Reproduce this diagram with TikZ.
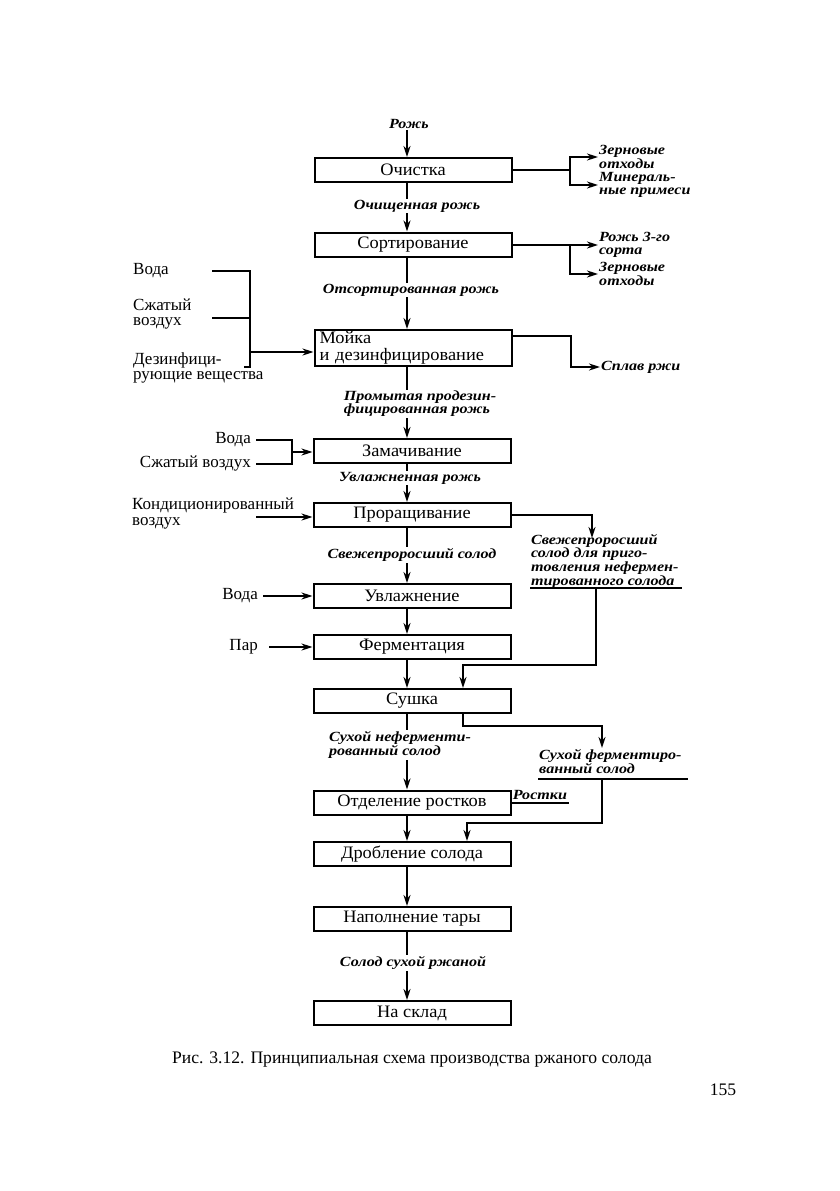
\documentclass[tikz,border=0pt]{standalone}
\usepackage{fontspec}
\setmainfont{Liberation Serif}
\newfontfamily\upf[FakeStretch=1.05]{Liberation Serif}
\newfontfamily\itf[FakeStretch=1.15]{Liberation Serif}
\usetikzlibrary{arrows.meta,calc}
\begin{document}
\begin{tikzpicture}[x=1pt,y=-1pt,
  box/.style={draw,line width=2pt,minimum width=197pt,minimum height=24pt,inner sep=0pt,font=\upf\fontsize{17.5}{17}\selectfont},
  lab/.style={font=\itf\fontsize{14}{13}\selectfont\itshape\bfseries,fill=white,inner sep=1pt,align=left},
  side/.style={font=\itf\fontsize{14}{12.5}\selectfont\itshape\bfseries,inner sep=1pt,align=left},
  txt/.style={font=\fontsize{17}{15.5}\selectfont,inner sep=1pt,align=left},
  ln/.style={line width=2pt},
  arr/.style={ln,-{Stealth[length=11pt,width=7pt]}}]
\useasboundingbox (0,0) rectangle (839,1191);
\coordinate (ax) at (407,0);
% main boxes
\node[box] (b1) at (413,170) {Очистка};
\node[box] (b2) at (413,244.5) {Сортирование};
\node[box,minimum height=36pt,align=left,text width=187pt] (b3) at (413,348) {Мойка\\и дезинфицирование};
\node[box] (b4) at (412,451) {Замачивание};
\node[box] (b5) at (412,515) {Проращивание};
\node[box] (b6) at (412,596) {Увлажнение};
\node[box] (b7) at (412,647) {Ферментация};
\node[box] (b8) at (412,701) {Сушка};
\node[box] (b9) at (412,802.5) {Отделение ростков};
\node[box] (b10) at (412,854) {Дробление солода};
\node[box] (b11) at (412,919) {Наполнение тары};
\node[box] (b12) at (412,1013) {На склад};
% main flow
\node[side] (r0) at (409,124) {Рожь};
\draw[arr] (r0.south -| ax) -- (b1.north -| ax);
\draw[arr] (b1.south -| ax) -- (b2.north -| ax);
\node[lab] (l1) at (417,206) {Очищенная рожь};
\draw[arr] (b2.south -| ax) -- (b3.north -| ax);
\node[lab] (l2) at (411,290) {Отсортированная рожь};
\draw[arr] (b3.south -| ax) -- (b4.north -| ax);
\node[lab] (l3) at (420,404) {Промытая продезин-\\фицированная рожь};
\draw[arr] (b4.south -| ax) -- (b5.north -| ax);
\node[lab] (l4) at (410,478) {Увлажненная рожь};
\draw[arr] (b5.south -| ax) -- (b6.north -| ax);
\node[lab] (l5) at (412,555) {Свежепроросший солод};
\draw[arr] (b6.south -| ax) -- (b7.north -| ax);
\draw[arr] (b7.south -| ax) -- (b8.north -| ax);
\draw[arr] (b8.south -| ax) -- (b9.north -| ax);
\node[lab] (l6) at (400,745) {Сухой неферменти-\\рованный солод};
\draw[arr] (b9.south -| ax) -- (b10.north -| ax);
\draw[arr] (b10.south -| ax) -- (b11.north -| ax);
\draw[arr] (b11.south -| ax) -- (b12.north -| ax);
\node[lab] (l7) at (413,963) {Солод сухой ржаной};
% right outputs
\coordinate (j1) at (570,170);
\node[side,anchor=west] (o1) at (598,157) {Зерновые\\отходы};
\node[side,anchor=west] (o2) at (598,185) {Минераль-\\ные примеси};
\draw[ln] (b1.east) -- (j1);
\draw[arr] (j1) |- (o1.west);
\draw[arr] (j1) |- (o2.west);
\coordinate (j2) at (570,244.5);
\node[side,anchor=west] (o3) at (598,245) {Рожь 3-го\\сорта};
\node[side,anchor=west] (o4) at (598,274) {Зерновые\\отходы};
\draw[ln] (b2.east) -- (j2);
\draw[arr] (j2) |- (o3.west);
\draw[arr] (j2) |- (o4.west);
\node[side,anchor=west] (o5) at (600,367) {Сплав ржи};
\draw[arr] ($(b3.north east)+(0,7)$) -- ++(58,0) |- (o5.west);
% left inputs to washing
\node[txt,anchor=west] (w1) at (132,271) {Вода};
\node[txt,anchor=west] (w2) at (132,314) {Сжатый\\воздух};
\node[txt,anchor=west] (w3) at (132,368) {Дезинфици-\\рующие вещества};
\coordinate (k1) at (250,352);
\draw[ln] (212,271) -- (250,271) -- (250,367) -- (244,367);
\draw[ln] (212,318) -- (250,318);
\draw[arr] (k1) -- (k1 -| b3.west);
% soaking inputs
\node[txt,anchor=east] (v1) at (252,440) {Вода};
\node[txt,anchor=east] (v2) at (252,464) {Сжатый воздух};
\coordinate (k2) at (292,452);
\draw[ln] (v1.east) ++(4,0) -- (292,440) -- (292,464) -- ($(v2.east)+(4,0)$);
\draw[arr] (k2) -- (k2 -| b4.west);
% conditioned air
\node[txt,anchor=north west] (c1) at (131,497) {Кондиционированный\\воздух};
\coordinate (k3) at (256,517);
\draw[arr] (k3) -- (k3 -| b5.west);
% water, steam
\node[txt,anchor=east] (v3) at (259,596) {Вода};
\draw[arr] ($(v3.east)+(4,0)$) -- (b6.west);
\node[txt,anchor=east] (v4) at (259,647) {Пар};
\draw[arr] ($(v4.east)+(10,0)$) -- (b7.west);
% germinated branch
\node[side,anchor=north west] (s1) at (530,533) {Свежепроросший\\солод для приго-\\товления нефермен-\\тированного солода};
\draw[arr] (b5.east) -| ($(s1.north west)+(62,5)$);
\coordinate (r1) at (596,588);
\draw[ln] (530,588) -- (682,588);
\coordinate (r2) at (463,665);
\draw[arr] (r1) |- (r2) -- (r2 |- b8.north);
% dried branch
\coordinate (q1) at (463,726);
\node[side,anchor=north west] (s2) at (538,748) {Сухой ферментиро-\\ванный солод};
\draw[arr] (b8.south -| q1) -- (q1) -| ($(s2.north west)+(64,0)$);
\draw[ln] (538,779) -- (688,779);
\coordinate (q2) at (602,779);
\coordinate (q3) at (467,823);
\draw[arr] (q2) |- (q3) -- (q3 |- b10.north);
% sprouts
\draw[ln] (b9.east) -- ++(57,0) node[midway,above,side,inner sep=2pt] {Ростки};
% caption
\node[txt,font=\fontsize{17.6}{18}\selectfont] (cap) at (412,1060) {Рис. 3.12. Принципиальная схема производства ржаного солода};
\node[txt,font=\fontsize{17.6}{18}\selectfont] (pg) at (723,1090) {155};
\end{tikzpicture}
\end{document}
